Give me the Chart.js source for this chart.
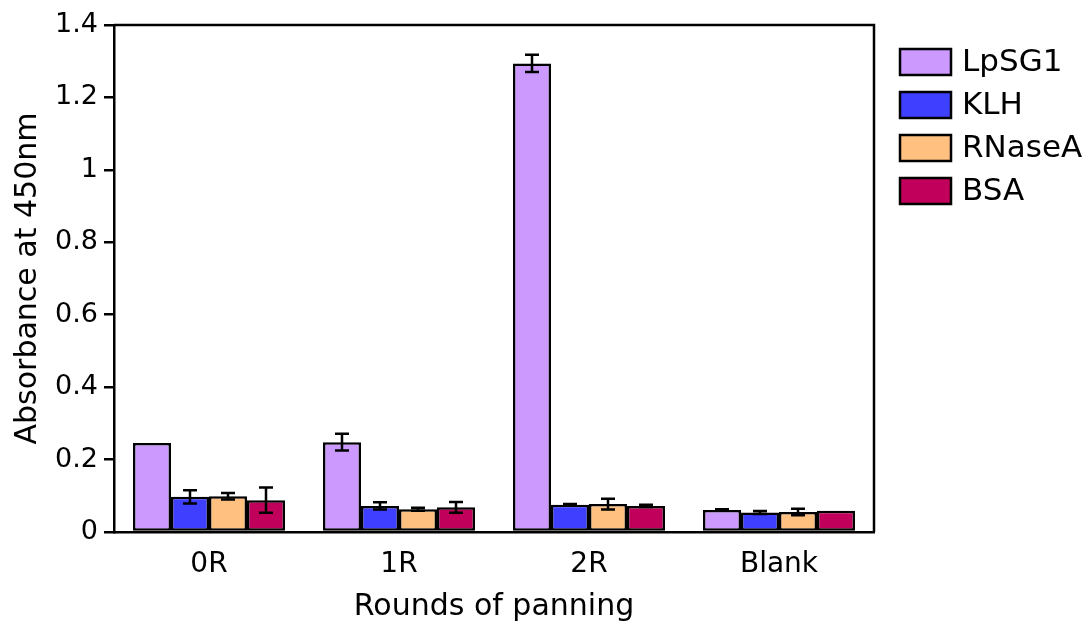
<!DOCTYPE html>
<html>
<head>
<meta charset="utf-8">
<script src="https://cdn.jsdelivr.net/npm/chart.js@4"></script>
<style>
  html, body { margin: 0; padding: 0; background: #fff; }
  #wrap { width: 1092px; height: 627px; }
</style>
</head>
<body>
<div id="wrap"><canvas id="chart"></canvas></div>
<script>
// ================= Data =================
const rounds = ['0R', '1R', '2R', 'Blank'];
const seriesNames = ['LpSG1', 'KLH', 'RNaseA', 'BSA'];

const lpsg1 = [0.246, 0.248, 1.294, 0.061];
const klh = [0.097, 0.072, 0.075, 0.054];
const rnaseA = [0.099, 0.063, 0.077, 0.055];
const bsa = [0.088, 0.068, 0.072, 0.059];

const lpsg1Err = [0, 0.023, 0.024, 0.002];
const klhErr = [0.018, 0.010, 0.002, 0.004];
const rnaseAErr = [0.009, 0.004, 0.015, 0.009];
const bsaErr = [0.035, 0.015, 0.003, 0];

const yTicks = [0, 0.2, 0.4, 0.6, 0.8, 1, 1.2, 1.4];

const colors = ['#cc99ff', '#3f3fff', '#ffc080', '#c0005a'];
const FONT = 'DejaVu Sans';
const LINE = 2.5;

// ================= Plugins =================
const errorBars = {
  id: 'errorBars',
  afterDatasetsDraw(chart) {
    const ctx = chart.ctx;
    const yScale = chart.scales.y;
    ctx.save();
    ctx.strokeStyle = '#000';
    ctx.lineWidth = LINE;
    chart.data.datasets.forEach((ds, i) => {
      const meta = chart.getDatasetMeta(i);
      meta.data.forEach((bar, j) => {
        const err = ds.errors[j];
        if (!err) return;
        const v = ds.data[j];
        const yTop = yScale.getPixelForValue(v + err);
        const yBot = yScale.getPixelForValue(v - err);
        const cap = 7;
        ctx.beginPath();
        ctx.moveTo(bar.x, yTop);
        ctx.lineTo(bar.x, yBot);
        ctx.moveTo(bar.x - cap, yTop);
        ctx.lineTo(bar.x + cap, yTop);
        ctx.moveTo(bar.x - cap, yBot);
        ctx.lineTo(bar.x + cap, yBot);
        ctx.stroke();
      });
    });
    ctx.restore();
  }
};

const frame = {
  id: 'frame',
  afterDraw(chart) {
    const { ctx, chartArea: a } = chart;
    ctx.save();
    ctx.strokeStyle = '#000';
    ctx.lineWidth = LINE;
    ctx.beginPath();
    ctx.moveTo(a.left, a.top);
    ctx.lineTo(a.right, a.top);
    ctx.lineTo(a.right, a.bottom);
    ctx.stroke();
    ctx.restore();
  }
};

const sideLegend = {
  id: 'sideLegend',
  afterDraw(chart) {
    const ctx = chart.ctx;
    const x0 = chart.chartArea.right + 26;
    const y0 = 49;
    const step = 43;
    ctx.save();
    ctx.font = `31px "${FONT}"`;
    ctx.textBaseline = 'middle';
    chart.data.datasets.forEach((ds, i) => {
      const y = y0 + i * step;
      ctx.fillStyle = ds.backgroundColor;
      ctx.fillRect(x0, y, 51, 26);
      ctx.strokeStyle = '#000';
      ctx.lineWidth = LINE;
      ctx.strokeRect(x0, y, 51, 26);
      ctx.fillStyle = '#000';
      ctx.fillText(ds.label, x0 + 62, y + 14);
    });
    ctx.restore();
  }
};

// ================= Chart =================
const allValues = [lpsg1, klh, rnaseA, bsa];
const allErrors = [lpsg1Err, klhErr, rnaseAErr, bsaErr];

const ctx = document.getElementById('chart').getContext('2d');
new Chart(ctx, {
  type: 'bar',
  data: {
    labels: rounds,
    datasets: seriesNames.map((name, i) => ({
      label: name,
      data: allValues[i],
      errors: allErrors[i],
      backgroundColor: colors[i],
      borderColor: '#000',
      borderWidth: LINE,
      borderSkipped: false,
      categoryPercentage: 0.8,
      barPercentage: 1.0
    }))
  },
  options: {
    responsive: true,
    maintainAspectRatio: false,
    animation: false,
    layout: { padding: { top: 25, right: 218, left: 0, bottom: 0 } },
    plugins: {
      legend: { display: false },
      tooltip: { enabled: false }
    },
    scales: {
      x: {
        grid: { display: false, drawTicks: false },
        border: { display: true, color: '#000', width: LINE },
        ticks: { color: '#000', padding: 16, font: { family: FONT, size: 28 } },
        title: {
          display: true,
          text: 'Rounds of panning',
          color: '#000',
          font: { family: FONT, size: 30 },
          padding: { top: 2, bottom: 2 }
        },
        afterFit(scale) { scale.height = 95; }
      },
      y: {
        min: 0,
        max: 1.4,
        afterBuildTicks(scale) { scale.ticks = yTicks.map(v => ({ value: v })); },
        grid: { drawOnChartArea: false, drawTicks: true, tickLength: 10, color: '#000', lineWidth: LINE },
        border: { display: true, color: '#000', width: LINE },
        ticks: {
          color: '#000',
          padding: 6,
          font: { family: FONT, size: 27 },
          callback: v => String(v)
        },
        title: {
          display: true,
          text: 'Absorbance at 450nm',
          color: '#000',
          font: { family: FONT, size: 30 },
          padding: { top: 10, bottom: 0 }
        },
        afterFit(scale) { scale.width = 114; }
      }
    }
  },
  plugins: [errorBars, frame, sideLegend]
});
</script>
</body>
</html>
